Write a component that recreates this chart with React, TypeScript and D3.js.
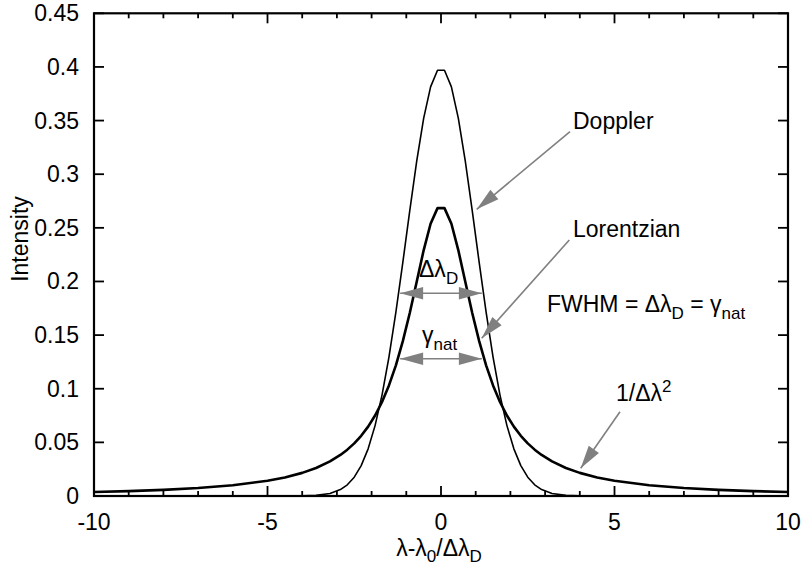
import React from "react";
import * as d3 from "d3";

// Sample positions (in units of the Doppler width) and line-profile values
const xs = [
  -10, -9, -8, -7, -6, -5, -4.5, -4, -3.6, -3.2, -2.9, -2.7, -2.5, -2.3, -2.1,
  -1.9, -1.7, -1.5, -1.3, -1.1, -0.9, -0.7, -0.5, -0.3, -0.1,
  0.1, 0.3, 0.5, 0.7, 0.9, 1.1, 1.3, 1.5, 1.7, 1.9, 2.1, 2.3, 2.5, 2.7, 2.9,
  3.2, 3.6, 4, 4.5, 5, 6, 7, 8, 9, 10,
];

const doppler = [
  0, 0, 0, 0, 0, 0, 0.00002, 0.00013, 0.00061, 0.00238, 0.00595, 0.01042, 0.01753, 0.02833, 0.04398,
  0.06562, 0.09405, 0.12952, 0.17137, 0.21785, 0.26609, 0.31225, 0.35207, 0.38139, 0.39695,
  0.39695, 0.38139, 0.35207, 0.31225, 0.26609, 0.21785, 0.17137, 0.12952, 0.09405, 0.06562, 0.04398, 0.02833, 0.01753, 0.01042, 0.00595,
  0.00238, 0.00061, 0.00013, 0.00002, 0, 0, 0, 0, 0, 0,
];

const lorentzian = [
  0.0037, 0.00455, 0.00573, 0.00744, 0.01003, 0.0142, 0.01732, 0.02156, 0.02613, 0.03224, 0.03826, 0.0432, 0.04908, 0.05614, 0.06466,
  0.07501, 0.08764, 0.10307, 0.12183, 0.14435, 0.17064, 0.19974, 0.22903, 0.25385, 0.26839,
  0.26839, 0.25385, 0.22903, 0.19974, 0.17064, 0.14435, 0.12183, 0.10307, 0.08764, 0.07501, 0.06466, 0.05614, 0.04908, 0.0432, 0.03826,
  0.03224, 0.02613, 0.02156, 0.01732, 0.0142, 0.01003, 0.00744, 0.00573, 0.00455, 0.0037,
];

const xTicks = [-10, -5, 0, 5, 10];
const xMinorTicks = d3.range(-10, 11, 1);
const yTicks = [0, 0.05, 0.1, 0.15, 0.2, 0.25, 0.3, 0.35, 0.4, 0.45];

// Width markers (half width of the profiles) and the heights they sit at
const hwhm = 1.1775;
const dopplerWidthY = 0.189;
const naturalWidthY = 0.128;

const W = 804;
const H = 573;
const FONT = "'Liberation Sans', Arial, Helvetica, sans-serif";
const FS = 23;
const SUB = 17;
const GRAY = "#808080";

const x = d3.scaleLinear().domain([-10, 10]).range([94, 788]);
const y = d3.scaleLinear().domain([0, 0.45]).range([496, 13.3]);

function arrowHead(x1: number, y1: number, x2: number, y2: number, len = 23, half = 6.2) {
  const a = Math.atan2(y2 - y1, x2 - x1);
  const bx = x2 - len * Math.cos(a);
  const by = y2 - len * Math.sin(a);
  const px = -Math.sin(a) * half;
  const py = Math.cos(a) * half;
  return `M${x2},${y2}L${bx + px},${by + py}L${bx - px},${by - py}Z`;
}

function Arrow({ x1, y1, x2, y2, both = false }: { x1: number; y1: number; x2: number; y2: number; both?: boolean }) {
  return (
    <g>
      <line x1={x1} y1={y1} x2={x2} y2={y2} stroke={GRAY} strokeWidth={1.6} />
      <path d={arrowHead(x1, y1, x2, y2)} fill={GRAY} />
      {both && <path d={arrowHead(x2, y2, x1, y1)} fill={GRAY} />}
    </g>
  );
}

export default function App() {
  const line = d3
    .line<number>()
    .x((_, i) => x(xs[i]))
    .y((d) => y(d))
    .curve(d3.curveLinear);

  const [x0, x1] = x.range();
  const [yb, yt] = y.range();

  return (
    <svg width={W} height={H} style={{ position: "absolute", left: 0, top: 0, background: "#fff" }} fontFamily={FONT}>
      <rect width={W} height={H} fill="#fff" />

      {/* profiles */}
      <path d={line(doppler) || ""} fill="none" stroke="#000" strokeWidth={1.6} strokeLinejoin="round" />
      <path d={line(lorentzian) || ""} fill="none" stroke="#000" strokeWidth={2.6} strokeLinejoin="round" />

      {/* ticks */}
      {xMinorTicks.map((t) => {
        const major = xTicks.includes(t);
        const len = major ? 10 : 5;
        return (
          <g key={"xt" + t}>
            <line x1={x(t)} x2={x(t)} y1={yb} y2={yb - len} stroke="#000" strokeWidth={1.8} />
            <line x1={x(t)} x2={x(t)} y1={yt} y2={yt + len} stroke="#000" strokeWidth={1.8} />
          </g>
        );
      })}
      {yTicks.map((t) => (
        <g key={"yt" + t}>
          <line x1={x0} x2={x0 + 10} y1={y(t)} y2={y(t)} stroke="#000" strokeWidth={1.8} />
          <line x1={x1} x2={x1 - 10} y1={y(t)} y2={y(t)} stroke="#000" strokeWidth={1.8} />
          <text x={79} y={y(t) + 8} textAnchor="end" fontSize={FS} fill="#000">
            {String(t)}
          </text>
        </g>
      ))}
      {xTicks.map((t) => (
        <text key={"xl" + t} x={x(t)} y={530} textAnchor="middle" fontSize={FS} fill="#000">
          {String(t)}
        </text>
      ))}

      {/* frame */}
      <rect x={x0} y={yt} width={x1 - x0} height={yb - yt} fill="none" stroke="#000" strokeWidth={2.2} />

      {/* axis titles */}
      <text transform={`translate(28,239) rotate(-90)`} textAnchor="middle" fontSize={FS} fill="#000">
        Intensity
      </text>
      <text x={439} y={556} textAnchor="middle" fontSize={FS} fill="#000">
        λ-λ<tspan fontSize={SUB} dy={6}>0</tspan>
        <tspan dy={-6}>/Δλ</tspan>
        <tspan fontSize={SUB} dy={6}>D</tspan>
      </text>

      {/* width markers */}
      <Arrow x1={x(-hwhm)} y1={y(dopplerWidthY)} x2={x(hwhm)} y2={y(dopplerWidthY)} both />
      <Arrow x1={x(-hwhm)} y1={y(naturalWidthY)} x2={x(hwhm)} y2={y(naturalWidthY)} both />
      <text x={419} y={277} fontSize={FS} fill="#000">
        Δλ<tspan fontSize={SUB} dy={6.5}>D</tspan>
      </text>
      <text x={422} y={343} fontSize={FS} fill="#000">
        γ<tspan fontSize={SUB} dy={6.5}>nat</tspan>
      </text>

      {/* annotations */}
      <Arrow x1={570} y1={131.7} x2={476.7} y2={209.3} />
      <Arrow x1={569.3} y1={240} x2={481.7} y2={338.3} />
      <Arrow x1={620} y1={411.7} x2={580.7} y2={468.3} />

      <text x={573} y={129} fontSize={FS} fill="#000">Doppler</text>
      <text x={573} y={237} fontSize={FS} fill="#000">Lorentzian</text>
      <text x={547} y={312} fontSize={FS} fill="#000">
        FWHM = Δλ<tspan fontSize={SUB} dy={6.5}>D</tspan>
        <tspan dy={-6.5}> = γ</tspan>
        <tspan fontSize={SUB} dy={6.5}>nat</tspan>
      </text>
      <text x={616} y={401} fontSize={FS} fill="#000">
        1/Δλ<tspan fontSize={SUB} dy={-9}>2</tspan>
      </text>
    </svg>
  );
}
